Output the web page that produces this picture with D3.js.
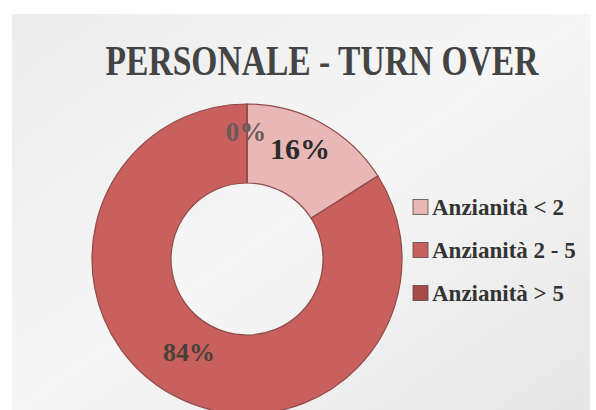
<!DOCTYPE html>
<html>
<head>
<meta charset="utf-8">
<script src="https://cdn.jsdelivr.net/npm/d3@7"></script>
<style>
    body { margin: 0; background: #ffffff; }
    svg { display: block; }
</style>
</head>
<body>
<script>
"use strict";
(function(){

    const categories = ["Anzianità < 2", "Anzianità 2 - 5", "Anzianità > 5"]
    const values = [16, 84, 0]
    const pctLabels = ["16%", "84%", "0%"]
    const colors = ["#e8b7b6", "#c8605e", "#a84a4a"]

    const measurements = {
        width: 596,
        height: 410,
        cx: 247,
        cy: 259,
        outer: 155,
        inner: 76
    }

    const svg = d3.select("body").append("svg")
        .attr("width", measurements.width)
        .attr("height", measurements.height)

    // scanned-looking panel
    const grad = svg.append("defs").append("linearGradient")
        .attr("id", "bg")
        .attr("x1", 0).attr("y1", 0).attr("x2", 1).attr("y2", 1)
    grad.append("stop").attr("offset", "0%").attr("stop-color", "#ececec")
    grad.append("stop").attr("offset", "50%").attr("stop-color", "#f6f6f6")
    grad.append("stop").attr("offset", "100%").attr("stop-color", "#e6e6e6")

    svg.append("rect")
        .attr("x", 12)
        .attr("y", 14)
        .attr("width", 578)
        .attr("height", 400)
        .attr("fill", "url(#bg)")

    // title is narrow in the original, so squeeze it horizontally to fit
    const titleG = svg.append("g")
    const title = titleG.append("text")
        .attr("x", 0)
        .attr("y", 0)
        .attr("text-anchor", "middle")
        .style("font-family", "Liberation Serif, serif")
        .style("font-weight", "bold")
        .style("font-size", "43px")
        .style("fill", "#444444")
        .text("PERSONALE - TURN OVER")
    const natural = title.node().getComputedTextLength()
    titleG.attr("transform", "translate(322,75) scale(" + (433 / natural) + ",1)")

    const pie = d3.pie().sort(null).value(d => d)
    const arcs = pie(values)

    const arc = d3.arc()
        .innerRadius(measurements.inner)
        .outerRadius(measurements.outer)

    const g = svg.append("g")
        .attr("transform", "translate(" + measurements.cx + "," + measurements.cy + ")")

    g.selectAll(".slice")
        .data(arcs)
        .enter()
        .append("path")
            .attr("class", "slice")
            .attr("d", arc)
            .attr("fill", (d, i) => colors[i])
            .attr("stroke", "#8f4a48")
            .attr("stroke-width", 1.2)

    // where the original placed each data label (angle from 12 o'clock, radius)
    const labelSpots = [
        { r: 123, a: 0.446, size: 30, color: "#2b2b2b" },
        { r: 110, a: -2.586, size: 26, color: "#4a4038" },
        { r: 127, a: -0.008, size: 27, color: "#6a5a58" }
    ]

    g.selectAll(".lbl")
        .data(arcs)
        .enter()
        .append("text")
            .attr("class", "lbl")
            .attr("x", (d, i) => Math.sin(labelSpots[i].a) * labelSpots[i].r)
            .attr("y", (d, i) => -Math.cos(labelSpots[i].a) * labelSpots[i].r)
            .attr("text-anchor", "middle")
            .attr("dominant-baseline", "central")
            .style("font-family", "Liberation Serif, serif")
            .style("font-weight", "bold")
            .style("font-size", (d, i) => labelSpots[i].size + "px")
            .style("fill", (d, i) => labelSpots[i].color)
            .text((d, i) => pctLabels[i])

    const legend = svg.append("g")
        .attr("transform", "translate(413,207)")

    const size = 15
    legend.selectAll("rect")
        .data(categories)
        .enter()
        .append("rect")
            .attr("x", 0)
            .attr("y", (d, i) => i * 43 - size / 2)
            .attr("width", size)
            .attr("height", size)
            .attr("fill", (d, i) => colors[i])
            .attr("stroke", "#5a4a48")
            .attr("stroke-width", 0.8)

    legend.selectAll("text")
        .data(categories)
        .enter()
        .append("text")
            .attr("x", size + 4)
            .attr("y", (d, i) => i * 43)
            .attr("dominant-baseline", "central")
            .style("font-family", "Liberation Serif, serif")
            .style("font-weight", "bold")
            .style("font-size", "23px")
            .style("fill", "#333333")
            .text(d => d)
})()
</script>
</body>
</html>
